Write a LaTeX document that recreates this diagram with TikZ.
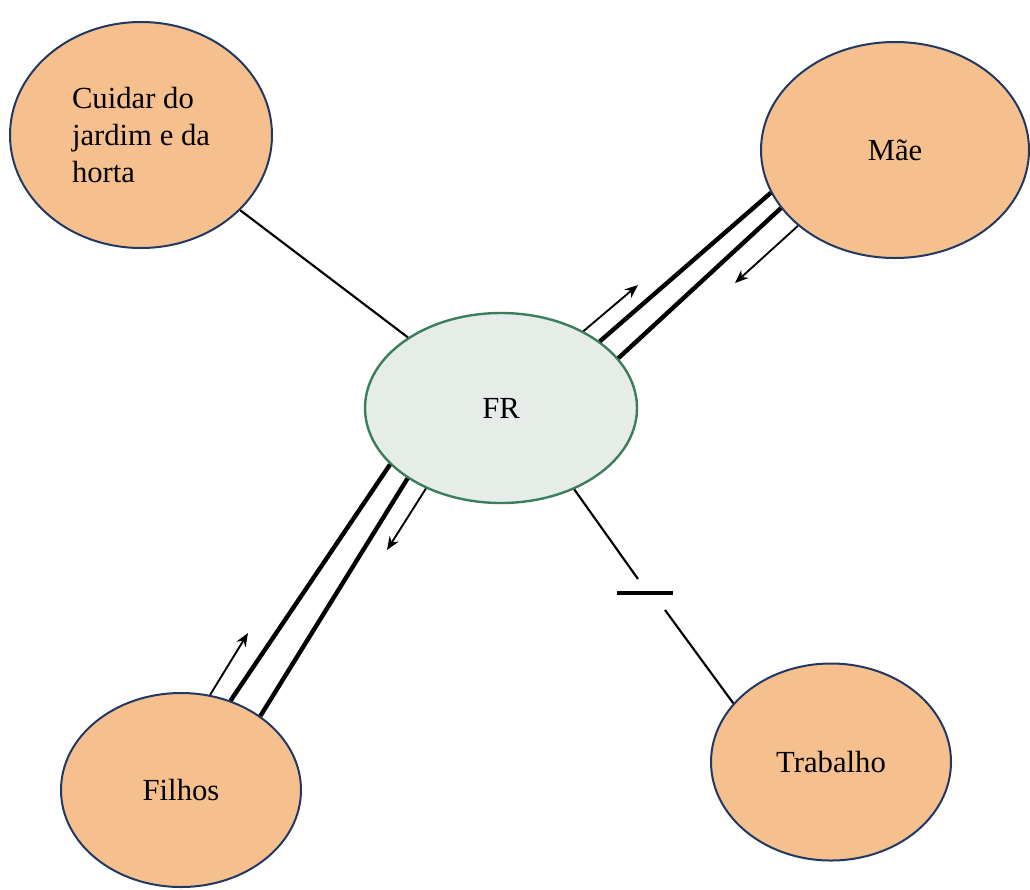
\documentclass[tikz,border=0pt]{standalone}
\usepackage{fontspec}
\setmainfont{Liberation Serif}
\usepackage{tikz}
\usetikzlibrary{arrows.meta,positioning,shapes.geometric}

\definecolor{laranja}{HTML}{F6BF8E}
\definecolor{azul}{HTML}{203864}
\definecolor{cinza}{HTML}{E6ECE8}
\definecolor{verde}{HTML}{3C7D5E}

\begin{document}
\begin{tikzpicture}[x=0.75pt,y=-0.75pt,on grid,
                    >={Stealth[length=10pt,width=8pt]}]
\tikzstyle{every node}=[font=\fontsize{23}{27.75}\selectfont]
\tikzstyle{circulo}=[ellipse,draw=azul,fill=laranja,line width=1.5pt,inner sep=0pt]
\tikzstyle{centro}=[ellipse,draw=verde,fill=cinza,line width=1.8pt,inner sep=0pt]
\tikzstyle{laco}=[line width=1.6pt]
\tikzstyle{forte}=[line width=3.3pt]
\tikzstyle{fluxo}=[->,line width=1.4pt]
\useasboundingbox (0,0) rectangle (1030,889);

\node[centro,minimum width=204pt,minimum height=142.5pt] (FR) at (501,408) {FR};
\node[circulo,minimum width=201pt,minimum height=162pt]
     (MAE) [above right=193.5pt and 295.5pt of FR] {Mãe};
\node[circulo,minimum width=196.5pt,minimum height=169.5pt,align=left]
     (JARDIM) [above left=204.75pt and 270pt of FR] {Cuidar do\\jardim e da\\horta};
\node[circulo,minimum width=180pt,minimum height=145.5pt]
     (FILHOS) [below left=286.5pt and 240pt of FR] {Filhos};
\node[circulo,minimum width=180pt,minimum height=147.75pt]
     (TRAB) [below right=265.5pt and 247.5pt of FR] {Trabalho};

\coordinate (FRM) at (638,285);
\coordinate (MFR) at (735,283);
\coordinate (FRF) at (387,550);
\coordinate (FFR) at (248,633);
\coordinate (CORTE1) at (638,579);
\coordinate (CORTE2) at (665,610);
\coordinate (BARRAE) at (617,593);
\coordinate (BARRAD) at (673,593);

% laco simples
\draw[laco] (JARDIM) -- (FR);

% laco forte com a mae
\draw[forte] (FR.34.5) -- (MAE.-161.2);
\draw[forte] (FR.23.4) -- (MAE.-153);
\draw[fluxo] (FR.43.8) -- (FRM);
\draw[fluxo] (MAE.-142.6) -- (MFR);

% laco forte com os filhos
\draw[forte] (FR.-153) -- (FILHOS.61.6);
\draw[forte] (FR.-143.9) -- (FILHOS.43.5);
\draw[fluxo] (FR.-133.5) -- (FRF);
\draw[fluxo] (FILHOS.73.5) -- (FFR);

% laco interrompido
\draw[laco] (FR.-48.2) -- (CORTE1);
\draw[line width=2.4pt] (BARRAE) -- (BARRAD);
\draw[laco] (CORTE2) -- (TRAB.149);
\end{tikzpicture}
\end{document}
